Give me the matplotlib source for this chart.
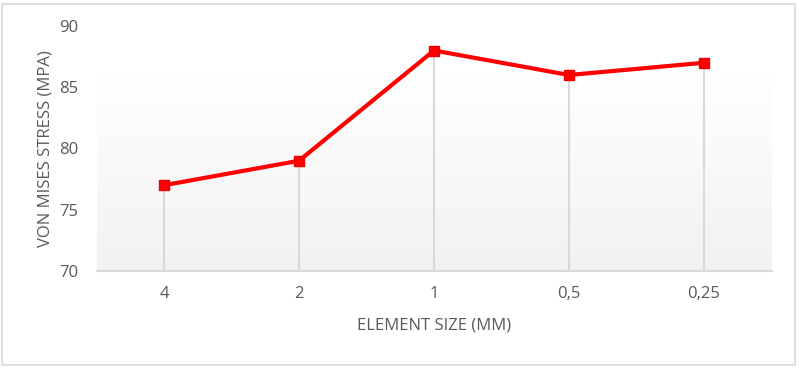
import numpy as np
import matplotlib.pyplot as plt
from matplotlib.patches import Rectangle
from matplotlib.colors import LinearSegmentedColormap

# element size (mm) vs von Mises stress (MPa)
sizes = ["4", "2", "1", "0,5", "0,25"]
stress = [77, 79, 88, 86, 87]

grey_txt = "#595959"
plt.rcParams['font.family'] = ['Open Sans', 'DejaVu Sans']

fig = plt.figure(figsize=(7.99, 3.69), dpi=100)
ax = fig.add_axes([96.5 / 799, 98 / 369, 675 / 799, 245 / 369])

x = np.arange(len(sizes))

# light gradient in plot area
grad = np.linspace(0, 1, 100).reshape(-1, 1)
ax.imshow(grad, extent=(-0.5, 4.5, 70, 86.2), aspect='auto', origin='upper',
          cmap=LinearSegmentedColormap.from_list("g", ["#ffffff", "#f2f2f2"]),
          zorder=0)

# drop lines
ax.vlines(x, 70, stress, color="#d9d9d9", lw=1.5, zorder=1)
ax.plot(x, stress, color="#ff0000", lw=3, marker="s", markersize=7.5,
        markerfacecolor="#ff0000", markeredgecolor="#ee0000", zorder=3)

ax.set_xlim(-0.5, 4.5)
ax.set_ylim(70, 90)
ax.set_yticks([70, 75, 80, 85, 90])
ax.set_xticks(x)
ax.set_xticklabels(sizes)
ax.tick_params(length=0, labelsize=12, labelcolor=grey_txt)
ax.tick_params(axis='y', pad=13)
ax.tick_params(axis='x', pad=11)

for s in ["top", "right", "left"]:
    ax.spines[s].set_visible(False)
ax.spines["bottom"].set_color("#d9d9d9")
ax.spines["bottom"].set_linewidth(1.5)
ax.set_facecolor("none")

ax.set_xlabel("ELEMENT SIZE (MM)", fontsize=12, color=grey_txt, labelpad=11)
ax.set_ylabel("VON MISES STRESS (MPA)", fontsize=12, color=grey_txt, labelpad=4)

# outer border
fig.patches.append(Rectangle((2 / 799, 4 / 369), 793 / 799, 361 / 369, transform=fig.transFigure,
                             fill=False, edgecolor="#d9d9d9", lw=1.2))

fig.savefig("out.png", dpi=100)
